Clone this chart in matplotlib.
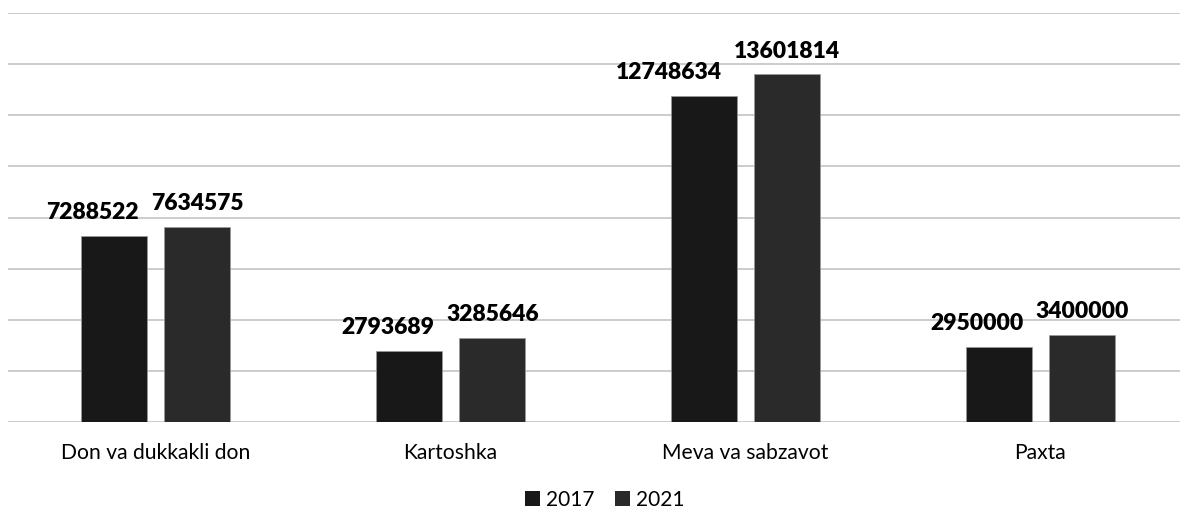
import numpy as np
import matplotlib
matplotlib.use("Agg")
import matplotlib.pyplot as plt
from matplotlib.patches import Patch

plt.rcParams['font.family'] = ['Lato', 'DejaVu Sans']

# data
categories = ["Don va dukkakli don", "Kartoshka", "Meva va sabzavot", "Paxta"]
years = ["2017", "2021"]
values_2017 = [7288522, 2793689, 12748634, 2950000]
values_2021 = [7634575, 3285646, 13601814, 3400000]

colors = ["#181818", "#2a2a2a"]

fig = plt.figure(figsize=(11.8, 5.11), dpi=100)
ax = fig.add_axes([8 / 1180, 89 / 511, 1180 / 1180, 409 / 511])

x = np.arange(len(categories))
w = 0.224
off = 0.142

bars1 = ax.bar(x - off, values_2017, w, color=colors[0], edgecolor="#9a9a9a", linewidth=0.5, zorder=3)
bars2 = ax.bar(x + off, values_2021, w, color=colors[1], edgecolor="#9a9a9a", linewidth=0.5, zorder=3)

ax.set_xlim(-0.5, len(categories) - 0.5)
ax.set_ylim(0, 16000000)
ax.set_yticks(np.arange(0, 16000001, 2000000))
ax.yaxis.grid(True, color="#c8c8c8", linewidth=1.3, zorder=0)
ax.set_yticklabels([])
ax.tick_params(axis="y", length=0)
ax.tick_params(axis="x", length=0, pad=15)
ax.set_xticks(x)
ax.set_xticklabels(categories, fontsize=15.2, color="#000000")
for s in ax.spines.values():
    s.set_visible(False)

# value labels; the 2017 label is pushed left so it doesn't touch the 2021 one
fig.canvas.draw()
r = fig.canvas.get_renderer()
for i in range(len(categories)):
    t2 = ax.annotate(f"{values_2021[i]}", (x[i] + off, values_2021[i]),
                     xytext=(0, 12), textcoords="offset points",
                     ha="center", va="baseline", fontsize=16.5, fontweight="heavy")
    bb2 = t2.get_window_extent(r)
    t1 = ax.annotate(f"{values_2017[i]}", (x[i] - off, values_2017[i]),
                     xytext=(0, 12), textcoords="offset points",
                     ha="center", va="baseline", fontsize=16.5, fontweight="heavy")
    bb1 = t1.get_window_extent(r)
    overlap = bb1.x1 - (bb2.x0 - 12)
    if overlap > 0:
        t1.set_position((-overlap * 72 / fig.dpi, 12))

handles = [Patch(facecolor=c, edgecolor="none") for c in colors]
fig.legend(handles, years, loc="center", bbox_to_anchor=(605 / 1180, 1 - 500 / 511),
           ncol=2, frameon=False, fontsize=15, handlelength=0.7, handleheight=0.7,
           handletextpad=0.3, columnspacing=1.0)

fig.savefig("out.png", dpi=100, facecolor="white")
